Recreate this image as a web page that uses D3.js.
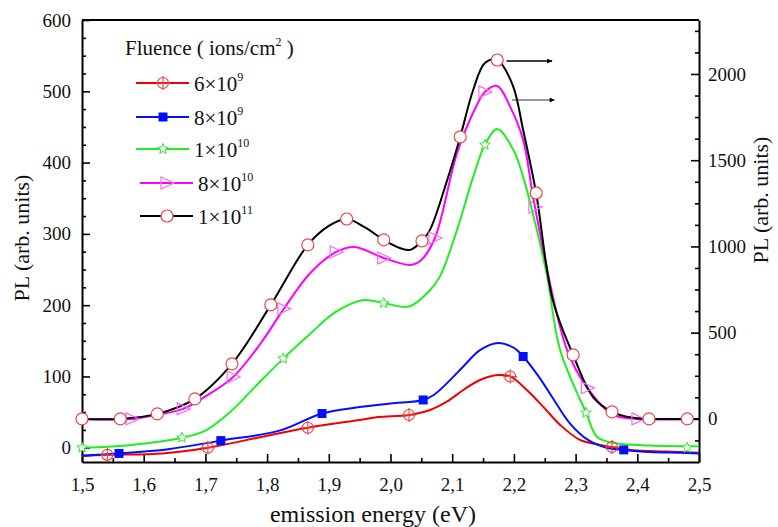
<!DOCTYPE html>
<html>
<head>
<meta charset="utf-8">
<script src="https://d3js.org/d3.v7.min.js"></script>
<style>
  body { margin: 0; background: #fff; }
  .axis path { stroke: #000; stroke-width: 2; }
  .axis line { stroke: #000; stroke-width: 1.6; }
</style>
</head>
<body>
<div id="chart"></div>
<script>

// x axis (eV) and tick labels
var energyTicks = [1.5, 1.6, 1.7, 1.8, 1.9, 2.0, 2.1, 2.2, 2.3, 2.4, 2.5];
var energyLabels = ["1,5", "1,6", "1,7", "1,8", "1,9", "2,0", "2,1", "2,2", "2,3", "2,4", "2,5"];
var leftTicks = [0, 100, 200, 300, 400, 500, 600];
var rightTicks = [0, 500, 1000, 1500, 2000];

// legend labels
var fluenceMant = ["6", "8", "1", "8", "1"];
var fluenceExp = ["9", "9", "10", "10", "11"];

// curves [eV, PL] - first three on left axis
var red6e9 = [[1.50,-12],[1.54,-10],[1.63,-8],[1.704,0],[1.79,15],[1.866,28],[1.95,39],[1.98,43],[2.03,46],[2.064,53],[2.092,65],[2.118,81],[2.145,95],[2.174,102],[2.194,100],[2.221,81],[2.248,57],[2.275,32],[2.307,11],[2.34,4],[2.359,1],[2.39,-3],[2.47,-6],[2.50,-7]];
var red6e9Marks = [[1.541,-10],[1.704,0],[1.866,28],[2.030,46],[2.194,100],[2.359,1]];

var blue8e9 = [[1.50,-11],[1.56,-8],[1.64,-2],[1.725,10],[1.82,24],[1.889,48],[1.95,57],[2.00,62],[2.053,67],[2.07,74],[2.092,91],[2.118,114],[2.145,137],[2.175,147],[2.20,140],[2.215,128],[2.24,100],[2.265,67],[2.29,35],[2.32,11],[2.35,0],[2.378,-3],[2.42,-6],[2.47,-7],[2.50,-8]];
var blue8e9Marks = [[1.560,-8],[1.725,10],[1.889,48],[2.053,67],[2.215,128],[2.378,-3]];

var green1e10 = [[1.50,0],[1.58,4],[1.662,14],[1.70,24],[1.74,50],[1.78,85],[1.826,125],[1.87,160],[1.91,190],[1.955,207],[1.989,203],[2.03,198],[2.064,221],[2.08,240],[2.108,306],[2.134,380],[2.153,425],[2.173,447],[2.199,418],[2.215,380],[2.237,306],[2.254,240],[2.275,137],[2.317,49],[2.335,15],[2.36,7],[2.42,3],[2.50,2]];
var green1e10Marks = [[1.50,0],[1.662,14],[1.826,125],[1.989,203],[2.153,425],[2.317,49],[2.481,0]];

// right axis curves
var magenta8e10 = [[1.50,0],[1.581,0],[1.62,22],[1.664,58],[1.70,130],[1.745,243],[1.79,440],[1.827,638],[1.87,846],[1.912,968],[1.942,997],[1.989,933],[2.032,893],[2.05,922],[2.072,1049],[2.108,1542],[2.140,1820],[2.153,1896],[2.173,1930],[2.194,1809],[2.215,1617],[2.234,1229],[2.286,400],[2.319,180],[2.361,23],[2.401,0],[2.50,0]];
var magenta8e10Marks = [[1.581,0],[1.664,58],[1.745,243],[1.827,638],[1.912,968],[1.989,933],[2.072,1049],[2.153,1896],[2.234,1229],[2.319,180],[2.401,0]];

var black1e11 = [[1.50,0],[1.562,0],[1.622,29],[1.683,116],[1.743,319],[1.806,661],[1.866,1009],[1.90,1119],[1.929,1159],[1.96,1107],[1.989,1038],[2.015,991],[2.032,980],[2.051,1032],[2.064,1096],[2.092,1386],[2.113,1635],[2.134,1907],[2.153,2064],[2.173,2081],[2.198,1936],[2.215,1675],[2.236,1310],[2.263,690],[2.296,371],[2.328,128],[2.359,41],[2.393,6],[2.419,0],[2.481,0],[2.50,0]];
var black1e11Marks = [[1.500,0],[1.562,0],[1.622,29],[1.683,116],[1.743,319],[1.806,661],[1.866,1009],[1.929,1159],[1.989,1038],[2.051,1032],[2.113,1635],[2.173,2081],[2.236,1310],[2.296,371],[2.359,41],[2.419,0],[2.481,0]];

// arrows (right axis): [x0, x1, y]
var arrowsRight = [[2.188, 2.262, 2075], [2.197, 2.266, 1849]];

var serif = "Liberation Serif";

var W = 778, H = 527;
var margin = {top: 20, right: 79, bottom: 65, left: 82};
var width = W - margin.left - margin.right,
    height = H - margin.top - margin.bottom;

var svg = d3.select("#chart").append("svg")
  .attr("width", W).attr("height", H)
  .attr("font-family", serif);

svg.append("defs").append("marker")
  .attr("id", "arrowhead")
  .attr("viewBox", "0 0 10 10")
  .attr("refX", 10).attr("refY", 5)
  .attr("markerWidth", 7).attr("markerHeight", 5)
  .attr("markerUnits", "userSpaceOnUse")
  .attr("orient", "auto")
  .append("path").attr("d", "M0,0L10,5L0,10Z").attr("fill", "#000");

var g = svg.append("g").attr("transform", "translate(" + margin.left + "," + margin.top + ")");

var x = d3.scaleLinear().domain([1.5, 2.5]).range([0, width]);
var yL = d3.scaleLinear().domain([-20, 600]).range([height, 0]);
var yR = d3.scaleLinear().domain([-250, 2313]).range([height, 0]);

// frame top
g.append("line").attr("x1", 0).attr("x2", width).attr("y1", 0).attr("y2", 0)
  .attr("stroke", "#000").attr("stroke-width", 2);

// minor ticks
var minorX = d3.range(1.55, 2.5, 0.1);
var minorL = d3.range(0, 601, 25).filter(function(d){ return d % 100 !== 0; });
var minorR = d3.range(-125, 2300, 125).filter(function(d){ return d % 500 !== 0; });

g.append("g").attr("class", "axis").attr("transform", "translate(0," + height + ")")
  .call(d3.axisBottom(x).tickValues(minorX).tickSize(-4).tickFormat(""))
  .select(".domain").remove();
g.append("g").attr("class", "axis")
  .call(d3.axisLeft(yL).tickValues(minorL).tickSize(-4).tickFormat(""))
  .select(".domain").remove();
g.append("g").attr("class", "axis").attr("transform", "translate(" + width + ",0)")
  .call(d3.axisRight(yR).tickValues(minorR).tickSize(-4).tickFormat(""))
  .select(".domain").remove();

// major axes
g.append("g").attr("class", "axis").attr("transform", "translate(0," + height + ")")
  .call(d3.axisBottom(x).tickValues(energyTicks).tickSizeInner(-8).tickSizeOuter(0).tickPadding(16)
    .tickFormat(function(d, i){ return energyLabels[i]; }));
g.append("g").attr("class", "axis")
  .call(d3.axisLeft(yL).tickValues(leftTicks).tickSizeInner(-8).tickSizeOuter(0).tickPadding(11));
g.append("g").attr("class", "axis").attr("transform", "translate(" + width + ",0)")
  .call(d3.axisRight(yR).tickValues(rightTicks).tickFormat(d3.format("d"))
    .tickSizeInner(-8).tickSizeOuter(0).tickPadding(9));

g.selectAll(".axis").attr("font-family", serif).attr("font-size", 19);
g.selectAll(".axis text").attr("fill", "#111");

// axis titles
svg.append("text").attr("x", 373).attr("y", 516).attr("text-anchor", "middle")
  .attr("dominant-baseline", "middle").attr("font-size", 24).attr("fill", "#111")
  .text("emission energy (eV)");
svg.append("text").attr("transform", "translate(24,238) rotate(-90)").attr("text-anchor", "middle")
  .attr("dominant-baseline", "middle").attr("font-size", 22).attr("fill", "#111")
  .text("PL (arb. units)");
svg.append("text").attr("transform", "translate(763,200) rotate(-90)").attr("text-anchor", "middle")
  .attr("dominant-baseline", "middle").attr("font-size", 22).attr("fill", "#111")
  .text("PL (arb. units)");

var line = function(ys) {
  return d3.line().curve(d3.curveCatmullRom.alpha(0.5))
    .x(function(d){ return x(d[0]); }).y(function(d){ return ys(d[1]); });
};

var series = [
  {data: red6e9, marks: red6e9Marks, y: yL, color: "#f00000", mk: "crossCircle"},
  {data: blue8e9, marks: blue8e9Marks, y: yL, color: "#0010ff", mk: "square"},
  {data: green1e10, marks: green1e10Marks, y: yL, color: "#1ef01e", mk: "star"},
  {data: magenta8e10, marks: magenta8e10Marks, y: yR, color: "#ff00ff", mk: "triangle"},
  {data: black1e11, marks: black1e11Marks, y: yR, color: "#000000", mk: "circle"}
];

var starPath = (function(){
  var p = [];
  for (var i = 0; i < 10; i++) {
    var r = i % 2 === 0 ? 5.5 : 2.4, a = -Math.PI/2 + i*Math.PI/5;
    p.push([r*Math.cos(a), r*Math.sin(a)]);
  }
  return "M" + p.join("L") + "Z";
})();

function drawMarker(sel, kind) {
  if (kind === "crossCircle") {
    sel.append("circle").attr("r", 5.5).attr("fill", "none").attr("stroke", "#f04040").attr("stroke-width", 1.1);
    sel.append("path").attr("d", "M-7,0H7M0,-7V7").attr("stroke", "#f04040").attr("stroke-width", 1.1);
  } else if (kind === "square") {
    sel.append("rect").attr("x", -4.5).attr("y", -4.5).attr("width", 9).attr("height", 9).attr("fill", "#0010ff");
  } else if (kind === "star") {
    sel.append("path").attr("d", starPath).attr("fill", "#fff").attr("stroke", "#3ae03a").attr("stroke-width", 1);
  } else if (kind === "triangle") {
    sel.append("path").attr("d", "M-6,-6L7,0L-6,6Z").attr("fill", "none").attr("stroke", "#f070f0").attr("stroke-width", 1.2);
  } else {
    sel.append("circle").attr("r", 6).attr("fill", "#fff").attr("stroke", "#e84848").attr("stroke-width", 1.2);
  }
}

series.forEach(function(s) {
  g.append("path").datum(s.data)
    .attr("fill", "none").attr("stroke", s.color).attr("stroke-width", 2)
    .attr("d", line(s.y));
});
series.forEach(function(s) {
  g.append("g").selectAll("g").data(s.marks).enter().append("g")
    .attr("transform", function(d){ return "translate(" + x(d[0]) + "," + s.y(d[1]) + ")"; })
    .each(function(){ drawMarker(d3.select(this), s.mk); });
});

// arrows pointing to right axis
g.selectAll(".arrow").data(arrowsRight).enter().append("line")
  .attr("class", "arrow")
  .attr("x1", function(d){ return x(d[0]); }).attr("x2", function(d){ return x(d[1]); })
  .attr("y1", function(d){ return yR(d[2]); }).attr("y2", function(d){ return yR(d[2]); })
  .attr("stroke", function(d, i){ return i === 0 ? "#000" : "#333"; })
  .attr("stroke-width", function(d, i){ return i === 0 ? 1.4 : 1; })
  .attr("marker-end", "url(#arrowhead)");

// legend
var legend = svg.append("g");
var lt = legend.append("text").attr("x", 125).attr("y", 55)
  .attr("font-size", 21).attr("fill", "#111");
lt.append("tspan").text("Fluence ( ions/cm");
lt.append("tspan").attr("dy", -9).attr("font-size", 12).text("2");
lt.append("tspan").attr("dy", 9).text(" )");

var rowY = [83, 117, 149, 183, 216];
series.forEach(function(s, i) {
  var shift = i >= 3 ? 4 : 0;
  var row = legend.append("g").attr("transform", "translate(" + shift + "," + rowY[i] + ")");
  row.append("line").attr("x1", 136).attr("x2", 189).attr("y1", 0).attr("y2", 0)
    .attr("stroke", s.color).attr("stroke-width", 2);
  drawMarker(row.append("g").attr("transform", "translate(163,0)"), s.mk);
  var t = row.append("text").attr("x", 194).attr("y", 8).attr("font-size", 21).attr("fill", "#111");
  t.append("tspan").text(fluenceMant[i] + "\u00d710");
  t.append("tspan").attr("dy", -10).attr("font-size", 12).text(fluenceExp[i]);
});

</script>
</body>
</html>
